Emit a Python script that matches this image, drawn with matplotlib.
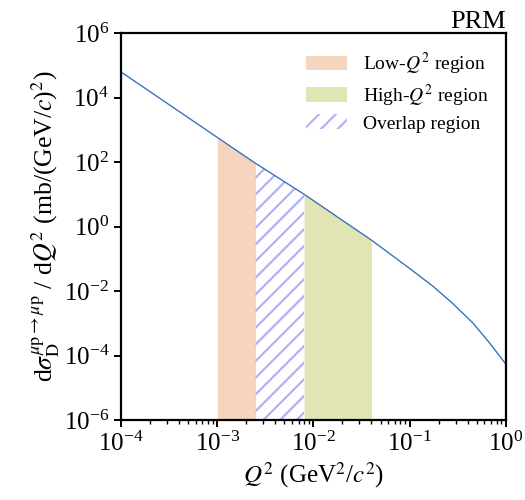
#!/usr/bin/env python3
"""Differential cross section vs Q^2 with the low/high/overlap regions."""

import matplotlib
matplotlib.use("Agg")
import matplotlib.pyplot as plt
from matplotlib.ticker import LogLocator, NullLocator

# curve values
q2 = [1e-4, 1e-3, 2.5e-3, 8e-3, 4e-2, 0.1, 0.176, 0.283, 0.457, 0.681, 1.0]
dsigma = [6.2e4, 5.8e2, 9.1e1, 1.0e1, 0.38, 0.05, 0.0138, 0.0040, 1.0e-3, 2.4e-4, 5.4e-5]

# region edges in Q^2
low_edges = (1e-3, 2.5e-3)
overlap_edges = (2.5e-3, 8e-3)
high_edges = (8e-3, 4e-2)

plt.rcParams["font.family"] = ["Liberation Serif", "DejaVu Serif"]
plt.rcParams["mathtext.fontset"] = "stix"
plt.rcParams["hatch.linewidth"] = 1.6

fig = plt.figure(figsize=(5.25, 5.0), dpi=100)
ax = fig.add_axes([0.2305, 0.16, 0.733, 0.774])

ymin = 1e-6


def band(edges):
    xs = [x for x in q2 if edges[0] <= x <= edges[1]]
    ys = [y for x, y in zip(q2, dsigma) if edges[0] <= x <= edges[1]]
    return xs, ys


xs, ys = band(low_edges)
ax.fill_between(xs, ymin, ys, color="#f6d5bf", lw=0, label=r"Low-$Q^2$ region")
xs, ys = band(high_edges)
ax.fill_between(xs, ymin, ys, color="#e1e4b3", lw=0, label=r"High-$Q^2$ region")
xs, ys = band(overlap_edges)
ax.fill_between(xs, ymin, ys, facecolor="none", edgecolor="#b2b2f9", hatch="//",
                lw=0, label="Overlap region")

ax.plot(q2, dsigma, color="#3a73bd", lw=1.0)

ax.set_xscale("log")
ax.set_yscale("log")
ax.set_xlim(1e-4, 1)
ax.set_ylim(1e-6, 1e6)
ax.set_yticks([1e-6, 1e-4, 1e-2, 1e0, 1e2, 1e4, 1e6])
ax.yaxis.set_minor_locator(NullLocator())
ax.xaxis.set_minor_locator(LogLocator(base=10, subs=range(2, 10), numticks=20))

for s in ax.spines.values():
    s.set_linewidth(1.6)
ax.tick_params(which="major", length=5, width=1.4, labelsize=18, direction="out")
ax.tick_params(which="minor", length=3, width=1.0, direction="out")

ax.set_xlabel(r"$Q^2$ (GeV$^2$/$c^2$)", fontsize=18, labelpad=3)
ax.set_ylabel(r"d$\sigma_\mathrm{D}^{\mu\mathrm{p}\to\mu\mathrm{p}}$ / d$Q^2$ (mb/(GeV/$c$)$^2$)",
              fontsize=18.5, labelpad=1)
ax.set_title("PRM", loc="right", fontsize=19, pad=3)

ax.legend(loc="upper right", frameon=False, fontsize=14, handlelength=2.1,
          handleheight=0.8, handletextpad=0.8, labelspacing=0.3,
          borderaxespad=0.5)

fig.savefig("out.png", dpi=100)
